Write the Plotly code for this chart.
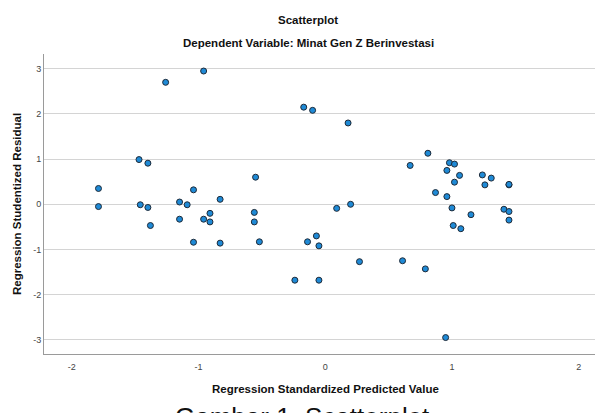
import plotly.graph_objects as go

# Data
predicted = [-1.79, -1.79, -1.47, -1.40, -1.26, -0.96, -1.46, -1.40, -1.38, -1.15,
             -1.09, -1.04, -0.83, -0.55, -0.91, -0.56, -1.15, -0.96, -0.91, -0.56,
             -0.17, -0.10, -1.04, -0.83, -0.52, -0.14, -0.07, -0.05, -0.24, -0.05,
             0.09, 0.20, 0.27, 0.61, 0.79, 0.87, 0.96, 1.00, 1.15, 1.01,
             1.07, 1.41, 1.45, 1.45, 0.95, 0.18, 0.81, 0.67, 0.98, 1.02,
             0.96, 1.06, 1.24, 1.31, 1.02, 1.26, 1.45, 1.45]
residual = [0.35, -0.05, 0.99, 0.91, 2.70, 2.95, -0.01, -0.07, -0.47, 0.05,
            -0.01, 0.32, 0.11, 0.60, -0.20, -0.18, -0.33, -0.33, -0.39, -0.39,
            2.15, 2.08, -0.84, -0.86, -0.83, -0.83, -0.70, -0.92, -1.68, -1.68,
            -0.09, 0.00, -1.27, -1.25, -1.43, 0.26, 0.17, -0.08, -0.23, -0.47,
            -0.54, -0.11, -0.16, -0.35, -2.95, 1.80, 1.13, 0.86, 0.92, 0.89,
            0.75, 0.64, 0.65, 0.58, 0.49, 0.43, 0.43, 0.44]

x_tick_values = [-2, -1, 0, 1, 2]
x_tick_labels = ["-2", "-1", "0", "1", "2"]
y_tick_values = [-3, -2, -1, 0, 1, 2, 3]
y_tick_labels = ["-3", "-2", "-1", "0", "1", "2", "3"]

title_text = "Scatterplot"
subtitle_text = "Dependent Variable: Minat Gen Z Berinvestasi"
x_title = "Regression Standardized Predicted Value"
y_title = "Regression Studentized Residual"
caption_text = "Gambar 1. Scatterplot"

FONT = "Liberation Sans, Arial, sans-serif"

fig = go.Figure()
fig.add_trace(go.Scatter(
    x=predicted, y=residual, mode="markers",
    marker=dict(size=6, color="#1f8ad6", line=dict(color="#1e2a38", width=1)),
    showlegend=False, hoverinfo="x+y",
))

W, H = 595, 413
L, R, T, B = 44, 0, 54, 59
pw, ph = W - L - R, H - T - B


def px_x(px):
    return (px - L) / pw


def px_y(py):
    return (H - B - py) / ph


fig.update_layout(
    width=W, height=H, autosize=False,
    margin=dict(l=L, r=R, t=T, b=B, pad=0),
    paper_bgcolor="white", plot_bgcolor="white",
    font=dict(family=FONT, color="#222222"),
    xaxis=dict(
        range=[-2.220, 2.129], tickvals=x_tick_values, ticktext=x_tick_labels,
        showgrid=False, zeroline=False, showline=True, linecolor="#9a9a9a", linewidth=1,
        ticks="", tickfont=dict(size=9, color="#444444"), ticklabelstandoff=4,
        fixedrange=True,
    ),
    yaxis=dict(
        range=[-3.314, 3.327], tickvals=y_tick_values, ticktext=y_tick_labels,
        showgrid=True, gridcolor="#d4d4d4", gridwidth=1,
        zeroline=False, showline=True, linecolor="#9a9a9a", linewidth=1,
        ticks="", tickfont=dict(size=9, color="#444444"),
        fixedrange=True,
    ),
    annotations=[
        dict(text=title_text, xref="paper", yref="paper", x=px_x(308), y=px_y(20),
             xanchor="center", yanchor="middle", showarrow=False,
             font=dict(family=FONT, size=11.5, color="#111111", weight="bold")),
        dict(text=subtitle_text, xref="paper", yref="paper", x=px_x(308), y=px_y(43),
             xanchor="center", yanchor="middle", showarrow=False,
             font=dict(family=FONT, size=11.5, color="#111111", weight="bold")),
        dict(text=x_title, xref="paper", yref="paper", x=px_x(325), y=px_y(389),
             xanchor="center", yanchor="middle", showarrow=False,
             font=dict(family=FONT, size=11.5, color="#111111", weight="bold")),
        dict(text=y_title, xref="paper", yref="paper", x=px_x(17), y=px_y(204),
             xanchor="center", yanchor="middle", showarrow=False, textangle=-90,
             font=dict(family=FONT, size=11.5, color="#111111", weight="bold")),
        dict(text=caption_text, xref="paper", yref="paper", x=px_x(302), y=px_y(400),
             xanchor="center", yanchor="top", showarrow=False,
             font=dict(family=FONT, size=26, color="#111111")),
    ],
)

fig.write_html(
    "out.html",
    config={"displayModeBar": False},
    post_script="document.body.style.margin='0';document.body.style.overflow='hidden';",
)
